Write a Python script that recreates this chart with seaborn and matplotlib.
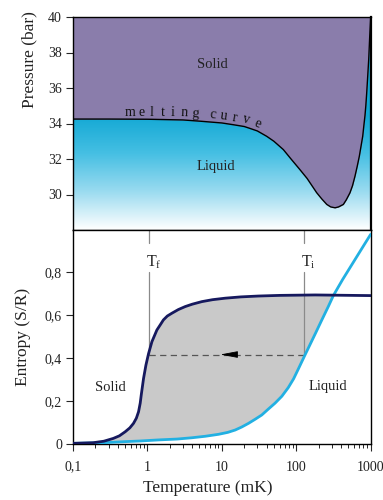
import matplotlib
matplotlib.use("Agg")
import numpy as np
import matplotlib.pyplot as plt
import seaborn as sns
from matplotlib.colors import LinearSegmentedColormap
from matplotlib.ticker import LogLocator, NullFormatter

# --- values ---
# melting curve of 3He: temperature (mK) / pressure (bar)
melt_T = [0.1, 0.3, 1, 3, 5.1, 10, 14.3, 20, 24, 30, 40, 50, 67, 85, 112, 140, 188,
          220, 257, 290, 332, 370, 429, 470, 527, 570, 615, 660, 703, 740, 781, 810,
          838, 860, 883, 910, 940, 970, 1000]
melt_P = [34.25, 34.25, 34.24, 34.2, 34.13, 34.03, 33.93, 33.83, 33.72, 33.58, 33.28,
          33.0, 32.53, 32.0, 31.4, 30.9, 30.1, 29.75, 29.44, 29.3, 29.25, 29.3, 29.44,
          29.7, 30.1, 30.5, 31.03, 31.6, 32.15, 32.7, 33.28, 33.9, 34.45, 35.0, 35.7,
          36.6, 37.6, 38.9, 40]

# entropy of solid and liquid 3He (S/R)
solid_T = [0.1, 0.187, 0.26, 0.348, 0.42, 0.503, 0.58, 0.65, 0.71, 0.76, 0.80, 0.826,
           0.887, 0.955, 1.035, 1.15, 1.34, 1.5, 1.64, 1.85, 2.13, 2.6, 3.22, 4.0, 5.39,
           7.5, 11.1, 18, 31, 60, 179, 1000]
solid_S = [0.003, 0.006, 0.013, 0.026, 0.038, 0.057, 0.075, 0.096, 0.12, 0.15, 0.19,
           0.228, 0.305, 0.367, 0.42, 0.476, 0.53, 0.556, 0.577, 0.595, 0.608, 0.625,
           0.639, 0.65, 0.662, 0.671, 0.678, 0.684, 0.688, 0.691, 0.693, 0.69]
liquid_T = [0.1, 0.2, 0.3, 0.503, 0.8, 1.41, 2.5, 3.96, 6.0, 9.0, 12, 15.1, 18.5, 22.8,
            28, 34.4, 42, 51.9, 64, 78, 92, 107, 131, 150, 183, 215, 250, 270, 315,
            360, 420, 527, 796, 1000]
liquid_S = [0.003, 0.005, 0.007, 0.011, 0.014, 0.019, 0.023, 0.029, 0.036, 0.045, 0.054,
            0.065, 0.079, 0.096, 0.115, 0.135, 0.162, 0.19, 0.222, 0.262, 0.303, 0.35,
            0.414, 0.456, 0.518, 0.569, 0.616, 0.64, 0.69, 0.725, 0.765, 0.82, 0.92,
            0.975]

T_f = 1.035     # final temperature
T_i = 128       # initial temperature
S_path = 0.416  # entropy along the compression

x_ticks = [0.1, 1, 10, 100, 1000]
x_labels = ['0,1', '1', '10', '100', '1000']
s_ticks = [0, 0.2, 0.4, 0.6, 0.8]
s_labels = ['0', '0,2', '0,4', '0,6', '0,8']
p_ticks = [30, 32, 34, 36, 38, 40]

PURPLE = '#8a7dab'
CYAN = '#12a8d4'
NAVY = '#16195e'
LIGHT = '#22b0e2'
GRAY = '#c9c9c9'
TXT = '#222222'

sns.set_theme(style='ticks')
plt.rcParams['font.family'] = ['Liberation Serif', 'DejaVu Serif']
plt.rcParams['axes.edgecolor'] = 'black'
plt.rcParams['axes.linewidth'] = 1.0

fig = plt.figure(figsize=(3.83, 5.0), dpi=100)
ax1 = fig.add_axes([73 / 383, 1 - 230 / 500, 297.7 / 383, 213 / 500])
ax2 = fig.add_axes([73 / 383, 1 - 444 / 500, 297.7 / 383, 214 / 500])

# ---------- top: phase diagram ----------
ax1.set_xscale('log')
ax1.set_xlim(0.1, 1000)
ax1.set_ylim(28, 40)
ax1.set_autoscale_on(False)

rows = 28 + 12 * np.linspace(0, 1, 300)
frac = np.clip((rows - 28) / (34.5 - 28), 0, 1)
liq_cmap = LinearSegmentedColormap.from_list('liq', ['white', '#9adbf0', '#45bfe3', CYAN])
ax1.imshow(frac[:, None], extent=[0, 1, 0, 1], transform=ax1.transAxes, origin='lower',
           aspect='auto', cmap=liq_cmap, vmin=0, vmax=1, zorder=0)
ax1.fill_between(melt_T, melt_P, 40, color=PURPLE, lw=0, zorder=1)
sns.lineplot(x=melt_T, y=melt_P, ax=ax1, color='black', lw=1.0, estimator=None,
             sort=False, zorder=3)

ax1.text(7.4, 37.3, 'Solid', ha='center', va='center', fontsize=10.5, color=TXT)
ax1.text(8.2, 31.6, 'Liquid', ha='center', va='center', fontsize=10.5, color=TXT)

# letters of "melting curve" following the curve
logT = np.log10(melt_T)
letter_pos = [-0.23, -0.085, 0.06, 0.2, 0.34, 0.485, 0.632, None,
              0.866, 1.01, 1.15, 1.3, 1.447]
for ch, u in zip('melting curve', letter_pos):
    if u is None:
        continue
    p = np.interp(u, logT, melt_P)
    pa = ax1.transData.transform((10 ** (u - 0.04), np.interp(u - 0.04, logT, melt_P)))
    pb = ax1.transData.transform((10 ** (u + 0.04), np.interp(u + 0.04, logT, melt_P)))
    ang = np.arctan2(pb[1] - pa[1], pb[0] - pa[0])
    d = 2.6
    ax1.annotate(ch, xy=(10 ** u, p), xytext=(-np.sin(ang) * d, np.cos(ang) * d),
                 textcoords='offset points', rotation=np.degrees(ang),
                 rotation_mode='anchor', ha='center', va='baseline',
                 fontsize=10, color='#111111')

ax1.tick_params(axis='x', which='both', bottom=False, labelbottom=False)
ax1.set_yticks(p_ticks, [str(p) for p in p_ticks])
ax1.tick_params(axis='y', direction='out', length=5, width=0.8, labelsize=10,
                labelcolor=TXT, pad=3)
ax1.spines['right'].set_linewidth(1.6)
ax1.set_ylabel('Pressure (bar)', fontsize=12.5, color=TXT)
ax1.yaxis.set_label_coords(-0.118, 0.8)

# ---------- bottom: entropy ----------
ax2.set_xscale('log')
ax2.set_xlim(0.1, 1000)
ax2.set_ylim(0, 0.995)

sol_in = [(t, s) for t, s in zip(solid_T, solid_S) if t <= 315]
liq_in = [(t, s) for t, s in zip(liquid_T, liquid_S) if t <= 315]
poly = sol_in + [(315, 0.69)] + liq_in[::-1]
ax2.fill([p[0] for p in poly], [p[1] for p in poly], color=GRAY, lw=0, zorder=1)

for t0 in (T_f, T_i):
    ax2.plot([t0, t0], [S_path, 0.80], color='#8a8a8a', lw=0.9, zorder=2)
    ax2.plot([t0, t0], [0.935, 1.0], color='#8a8a8a', lw=0.9, zorder=2)
ax2.plot([T_f, T_i], [S_path, S_path], color='#555555', lw=0.9, dashes=(5, 3.5), zorder=2)
ax2.annotate('', xy=(9.5, S_path), xytext=(13.3, S_path),
             arrowprops=dict(arrowstyle='-|>,head_length=0.9,head_width=0.17',
                             color='black', lw=0.6, shrinkA=0, shrinkB=0), zorder=5)

sns.lineplot(x=liquid_T, y=liquid_S, ax=ax2, color=LIGHT, lw=2.0, estimator=None,
             sort=False, zorder=3)
sns.lineplot(x=solid_T, y=solid_S, ax=ax2, color=NAVY, lw=2.0, estimator=None,
             sort=False, zorder=4)

ax2.annotate(r'$\mathregular{T_f}$', xy=(T_f, 0.825), xytext=(-2, 0),
             textcoords='offset points', ha='left', va='baseline', fontsize=11.5, color=TXT)
ax2.annotate(r'$\mathregular{T_i}$', xy=(T_i, 0.825), xytext=(-2, 0),
             textcoords='offset points', ha='left', va='baseline', fontsize=11.5, color=TXT)
ax2.text(0.32, 0.265, 'Solid', ha='center', va='center', fontsize=10.5, color=TXT)
ax2.text(270, 0.267, 'Liquid', ha='center', va='center', fontsize=10.5, color=TXT)

ax2.set_xticks(x_ticks, x_labels)
ax2.xaxis.set_minor_locator(LogLocator(base=10, subs=range(2, 10)))
ax2.xaxis.set_minor_formatter(NullFormatter())
ax2.set_yticks(s_ticks, s_labels)
ax2.tick_params(axis='both', which='major', direction='out', length=5, width=0.8,
                labelsize=10, labelcolor=TXT, pad=3)
ax2.tick_params(axis='x', which='major', pad=7)
ax2.tick_params(axis='x', which='minor', direction='out', length=3, width=0.7)
ax2.set_ylabel('Entropy (S/R)', fontsize=12.5, color=TXT)
ax2.yaxis.set_label_coords(-0.141, 0.5)
ax2.set_xlabel('Temperature (mK)', fontsize=12.5, color=TXT)
ax2.xaxis.set_label_coords(0.453, -0.17)

fig.savefig('out.png', dpi=100)
